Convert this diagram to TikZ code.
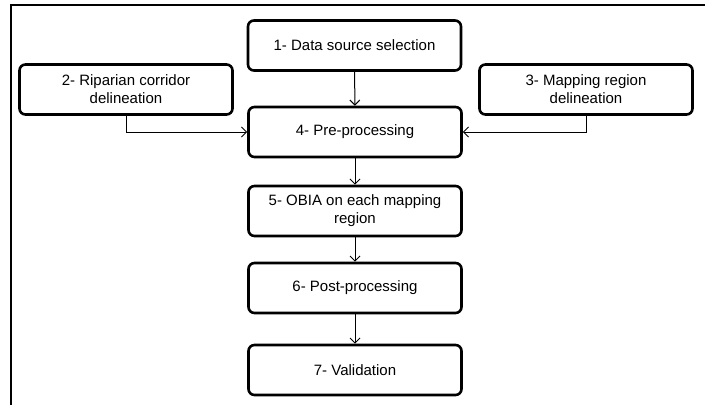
\documentclass[tikz,border=0pt]{standalone}
\usepackage{fontspec}
\setmainfont{Liberation Sans}
\usetikzlibrary{arrows.meta}
\begin{document}
\begin{tikzpicture}[x=1pt,y=-1pt,
  stepbox/.style={draw,line width=2.6pt,rounded corners=6pt,minimum width=213pt,minimum height=50pt,align=center,inner sep=2pt,font=\fontsize{15}{18}\selectfont},
  conn/.style={line width=1pt,-{Straight Barb[length=5pt,width=10pt,line width=1pt]}}]
\useasboundingbox (0,0) rectangle (705,405);
\draw[line width=2pt] (11,405) -- (11,5) -- (705,5);
\node[stepbox] (b1) at (354.5,45.5) {1- Data source selection};
\node[stepbox] (b2) at (126,89.5) {2- Riparian corridor\\delineation};
\node[stepbox] (b3) at (586,89.5) {3- Mapping region\\delineation};
\node[stepbox] (b4) at (355,132) {4- Pre-processing};
\node[stepbox] (b5) at (355,211) {5- OBIA on each mapping\\region};
\node[stepbox] (b6) at (355,288) {6- Post-processing};
\node[stepbox] (b7) at (355,370) {7- Validation};
\draw[conn] (b1) -- (b4);
\draw[conn] (b2.south) |- (b4.west);
\draw[conn] (b3.south) |- (b4.east);
\draw[conn] (b4) -- (b5);
\draw[conn] (b5) -- (b6);
\draw[conn] (b6) -- (b7);
\end{tikzpicture}
\end{document}
